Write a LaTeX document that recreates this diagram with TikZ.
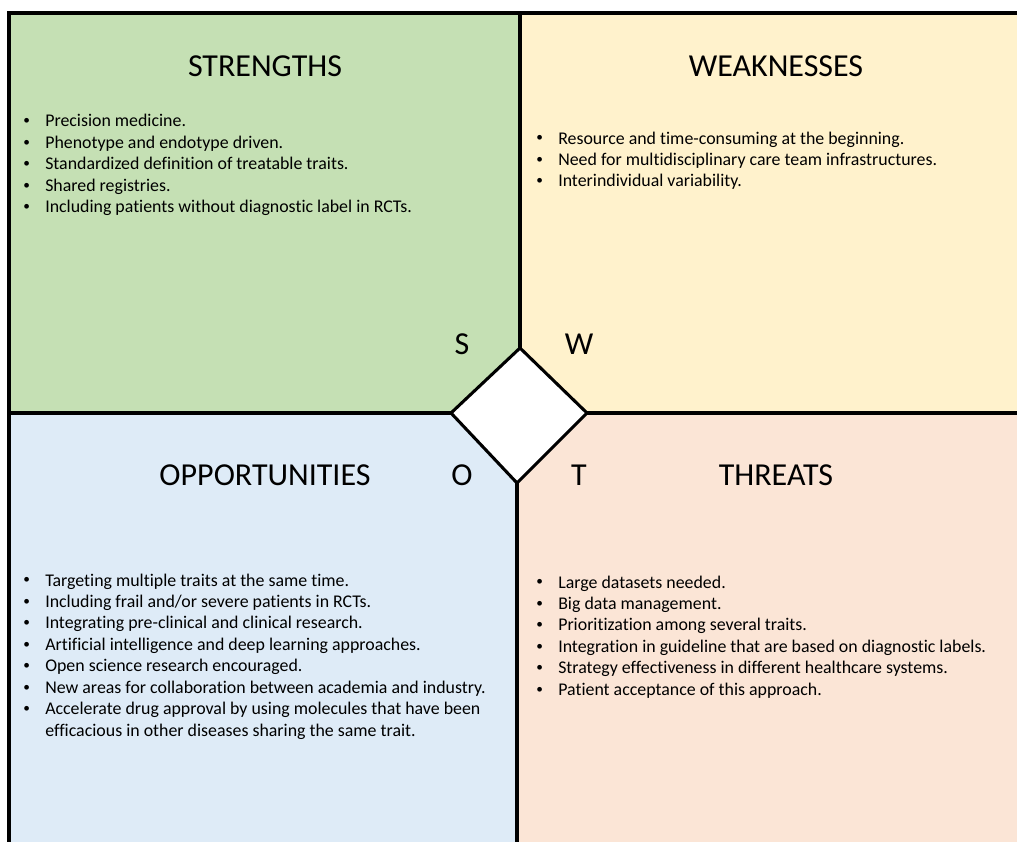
\documentclass[tikz,border=0pt]{standalone}
\usepackage{fontspec}
\setmainfont{Carlito}[Ligatures={NoCommon}]
\definecolor{swotgreen}{HTML}{C5E0B4}
\definecolor{swotyellow}{HTML}{FFF2CC}
\definecolor{swotblue}{HTML}{DEEBF7}
\definecolor{swotpeach}{HTML}{FBE5D6}
\newcommand{\swotitems}[1]{{\fontsize{13.4}{16.1}\selectfont\setlength{\tabcolsep}{0pt}%
  \begin{tabular}[t]{@{}p{16.5pt}@{}l@{}}#1\end{tabular}}}
\newcommand{\swotdot}{\raisebox{0.12em}{\fontsize{10}{10}\selectfont\textbullet}}
\tikzset{
  frame/.style={line width=2.3pt,black},
  head/.style={anchor=base,inner sep=0pt,font=\fontsize{24}{28}\selectfont},
  letter/.style={anchor=base,inner sep=0pt,font=\fontsize{24}{28}\selectfont},
  items/.style={anchor=base west,inner sep=0pt}
}
\begin{document}
\begin{tikzpicture}[x=0.75pt,y=-0.75pt]
\useasboundingbox (0,0) rectangle (1017,842);
% quadrants
\fill[swotgreen] (9,13) rectangle (520,413);
\fill[swotyellow] (520,13) rectangle (1017,413);
\fill[swotblue] (9,413) rectangle (517,842);
\fill[swotpeach] (517,413) rectangle (1017,842);
% borders and dividers
\draw[frame] (9,842) -- (9,13) -- (1017,13);
\draw[frame] (520,13) -- (520,348);
\draw[frame] (517,483) -- (517,842);
\draw[frame] (9,413) -- (451,413);
\draw[frame] (587,413) -- (1017,413);
\filldraw[frame,fill=white,line join=miter] (520,348) -- (587,413) -- (517,483) -- (451,413) -- cycle;
% headings
\node[head] (strengths) at (265,77) {STRENGTHS};
\node[head] (weaknesses) at (776,77) {WEAKNESSES};
\node[head] (opportunities) at (265,485) {OPPORTUNITIES};
\node[head] (threats) at (776,485) {THREATS};
\node[letter] (s) at (462,354) {S};
\node[letter] (w) at (579,354) {W};
\node[letter] (o) at (462,485) {O};
\node[letter] (t) at (579,485) {T};
% lists
\node[items] (slist) at (23,127) {\swotitems{%
  \swotdot & Precision medicine.\\
  \swotdot & Phenotype and endotype driven.\\
  \swotdot & Standardized definition of treatable traits.\\
  \swotdot & Shared registries.\\
  \swotdot & Including patients without diagnostic label in RCTs.}};
\node[items] (wlist) at (536,144) {\swotitems{%
  \swotdot & Resource and time-consuming at the beginning.\\
  \swotdot & Need for multidisciplinary care team infrastructures.\\
  \swotdot & Interindividual variability.}};
\node[items] (olist) at (23,586) {\swotitems{%
  \swotdot & Targeting multiple traits at the same time.\\
  \swotdot & Including frail and/or severe patients in RCTs.\\
  \swotdot & Integrating pre-clinical and clinical research.\\
  \swotdot & Artificial intelligence and deep learning approaches.\\
  \swotdot & Open science research encouraged.\\
  \swotdot & New areas for collaboration between academia and industry.\\
  \swotdot & Accelerate drug approval by using molecules that have been\\
  & efficacious in other diseases sharing the same trait.}};
\node[items] (tlist) at (536,588) {\swotitems{%
  \swotdot & Large datasets needed.\\
  \swotdot & Big data management.\\
  \swotdot & Prioritization among several traits.\\
  \swotdot & Integration in guideline that are based on diagnostic labels.\\
  \swotdot & Strategy effectiveness in different healthcare systems.\\
  \swotdot & Patient acceptance of this approach.}};
\end{tikzpicture}
\end{document}
